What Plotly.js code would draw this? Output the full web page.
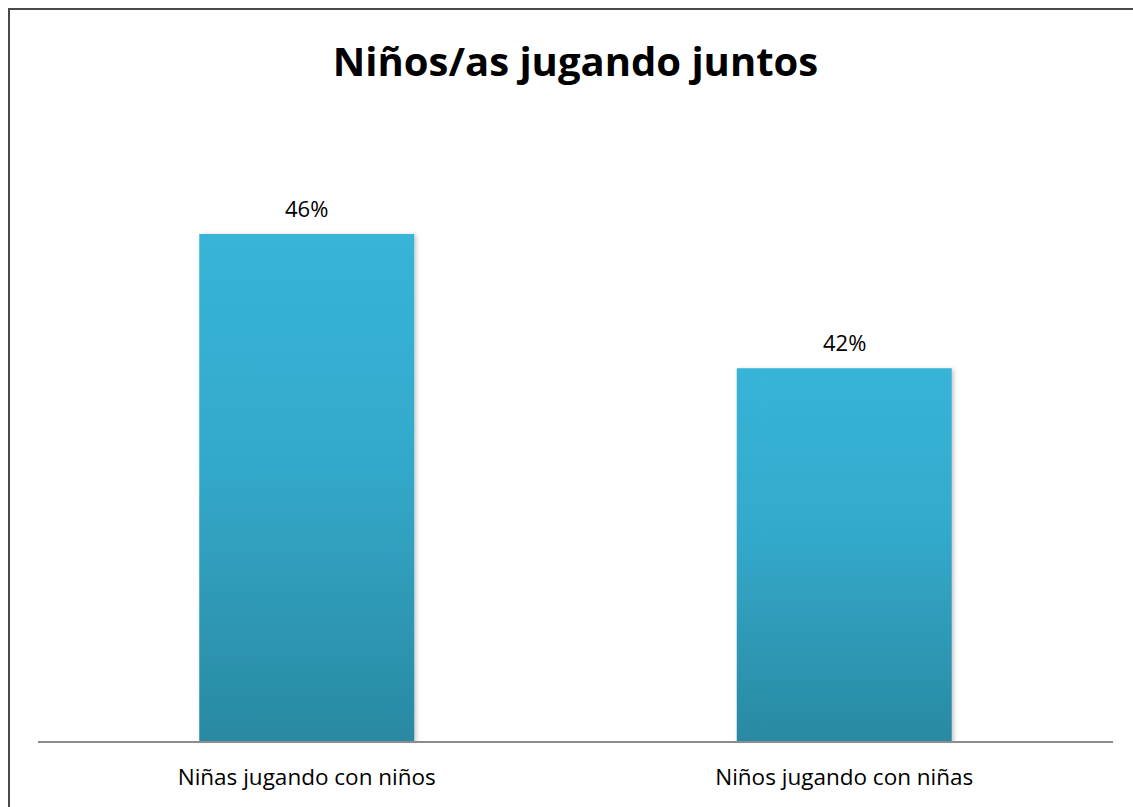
<!DOCTYPE html>
<html>
<head>
<meta charset="utf-8">
<script src="https://cdn.plot.ly/plotly-3.0.1.min.js"></script>
<style>
  html, body { margin: 0; padding: 0; background: #fff; overflow: hidden; }
  #wrap { position: relative; width: 1133px; height: 807px; overflow: hidden; }
  #chart { position: absolute; left: 0; top: 0; width: 1133px; height: 807px; }
  #frame { position: absolute; left: 8px; top: 8px; width: 1200px; height: 900px;
           border: 2px solid #4a4a4a; pointer-events: none; box-sizing: border-box; }
</style>
</head>
<body>
<div id="wrap">
  <div id="chart"></div>
  <div id="frame"></div>
</div>
<script>
const chartTitle = "Niños/as jugando juntos";
const categories = ["Niñas jugando con niños", "Niños jugando con niñas"];
const values = [46, 42];
const valueLabels = ["46%", "42%"];

const FONT = "'Open Sans', Lato, sans-serif";

const trace = {
  type: "bar",
  x: categories,
  y: values,
  marker: { color: "#33a9cb", line: { width: 0 } },
  hoverinfo: "skip"
};

const annotations = categories.map((c, i) => ({
  x: c, y: values[i], xref: "x", yref: "y",
  text: valueLabels[i], showarrow: false,
  yanchor: "bottom", yshift: 9,
  font: { family: FONT, size: 22, color: "#000" }
}));

const layout = {
  width: 1133, height: 807,
  margin: { l: 38, r: 20, t: 100, b: 66 },
  paper_bgcolor: "#fff", plot_bgcolor: "#fff",
  title: {
    text: "<b>" + chartTitle + "</b>",
    xref: "paper", x: 0.5, xanchor: "center",
    yref: "container", y: 1 - 62 / 807, yanchor: "middle",
    font: { family: FONT, size: 40, color: "#000" }
  },
  bargap: 0.6,
  showlegend: false,
  xaxis: {
    showline: true, linecolor: "#8c8c8c", linewidth: 1.5,
    ticks: "", ticklabelstandoff: 15,
    tickfont: { family: FONT, size: 22.5, color: "#000" },
    showgrid: false, zeroline: false, fixedrange: true
  },
  yaxis: {
    range: [30.88, 50], visible: false, showgrid: false, zeroline: false, fixedrange: true
  },
  annotations: annotations
};

function styleBars(gd) {
  const NS = "http://www.w3.org/2000/svg";
  const svg = gd.querySelector("svg.main-svg");
  let defs = svg.querySelector("defs");
  if (!defs) { defs = document.createElementNS(NS, "defs"); svg.insertBefore(defs, svg.firstChild); }
  const ya = gd._fullLayout.yaxis;
  const baseY = ya._length;

  if (!svg.querySelector("#barShadow")) {
    const filt = document.createElementNS(NS, "filter");
    filt.setAttribute("id", "barShadow");
    filt.setAttribute("x", "-10%"); filt.setAttribute("y", "-10%");
    filt.setAttribute("width", "120%"); filt.setAttribute("height", "120%");
    const ds = document.createElementNS(NS, "feDropShadow");
    ds.setAttribute("dx", "2"); ds.setAttribute("dy", "1");
    ds.setAttribute("stdDeviation", "2"); ds.setAttribute("flood-opacity", "0.22");
    filt.appendChild(ds);
    defs.appendChild(filt);
  }

  const paths = gd.querySelectorAll(".trace.bars .point path");
  paths.forEach((p, i) => {
    const id = "barGrad" + i;
    let grad = svg.querySelector("#" + id);
    if (grad) grad.remove();
    grad = document.createElementNS(NS, "linearGradient");
    grad.setAttribute("id", id);
    grad.setAttribute("gradientUnits", "userSpaceOnUse");
    grad.setAttribute("x1", "0"); grad.setAttribute("x2", "0");
    grad.setAttribute("y1", String(ya.l2p(values[i])));
    grad.setAttribute("y2", String(baseY));
    [["0", "#37b4d8"], ["0.45", "#33a9cb"], ["1", "#2a89a2"]].forEach(([o, c]) => {
      const s = document.createElementNS(NS, "stop");
      s.setAttribute("offset", o); s.setAttribute("stop-color", c);
      grad.appendChild(s);
    });
    defs.appendChild(grad);
    p.style.setProperty("fill", "url(#" + id + ")", "important");
    p.setAttribute("filter", "url(#barShadow)");
  });
}

Plotly.newPlot("chart", [trace], layout, { displayModeBar: false, staticPlot: true }).then(gd => {
  styleBars(gd);
  gd.on("plotly_afterplot", () => styleBars(gd));
});
</script>
</body>
</html>
